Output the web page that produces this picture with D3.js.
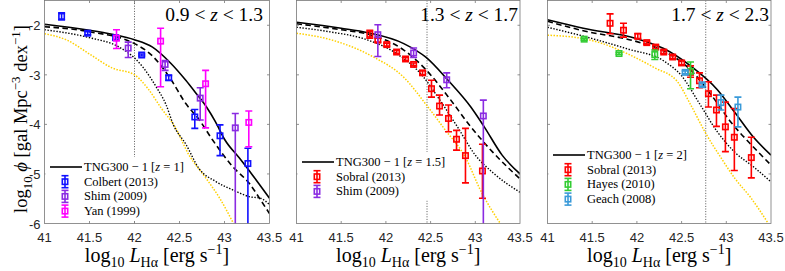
<!DOCTYPE html>
<meta charset="utf-8">
<script src="https://d3js.org/d3.v7.min.js"></script>
<style>
  body { margin: 0; background: #fff; }
</style>
<div id="chart"></div>
<script>

// ---- data ----
var xTicks = [41, 41.5, 42, 42.5, 43, 43.5],
  yTicks = [-2, -3, -4, -5, -6];

var zBins = [["0.9", "1.3"], ["1.3", "1.7"], ["1.7", "2.3"]],
  tngZ = ["1", "1.5", "2"],
  limits = [42.0, 42.46, 42.77];

// model curves [log L, log phi]
var z1Tng = [[41,-1.98],[41.5,-2.1],[41.75,-2.18],[42,-2.29],[42.2,-2.44],[42.4,-2.76],[42.57,-3.11],[42.67,-3.34],[42.8,-3.65],[42.9,-3.95],[43,-4.3],[43.17,-4.69],[43.31,-5.02],[43.5,-5.49]];
var z1Dash = [[41,-2.03],[41.5,-2.13],[42,-2.37],[42.2,-2.62],[42.4,-3.08],[42.57,-3.58],[42.72,-3.91],[42.87,-4.32],[43.09,-4.85],[43.28,-5.2],[43.41,-5.55],[43.5,-5.8]];
var z1Dot = [[41,-2.09],[41.5,-2.25],[41.83,-2.44],[42,-2.66],[42.1,-2.86],[42.24,-3.24],[42.35,-3.6],[42.43,-4.0],[42.57,-4.4],[42.72,-4.9],[42.9,-5.15],[43.09,-5.32],[43.28,-5.46],[43.4,-5.49],[43.5,-5.62]];
var z1Gold = [[41,-2.17],[41.25,-2.3],[41.5,-2.58],[41.75,-2.86],[42,-3.0],[42.15,-3.28],[42.3,-3.68],[42.45,-4.05],[42.6,-4.6],[42.8,-5.1],[42.95,-5.5],[43.1,-6.0]];

var z2Tng = [[41,-1.94],[41.5,-2.06],[41.8,-2.15],[42.2,-2.37],[42.45,-2.65],[42.7,-3.12],[42.95,-3.65],[43.1,-4.05],[43.3,-4.62],[43.5,-5.0]];
var z2Dash = [[41,-1.97],[41.5,-2.09],[41.8,-2.18],[42.2,-2.5],[42.45,-2.9],[42.7,-3.45],[42.95,-4.05],[43.2,-4.57],[43.5,-5.1]];
var z2Dot = [[41,-2.04],[41.4,-2.14],[41.75,-2.27],[42.1,-2.55],[42.4,-3.0],[42.6,-3.5],[42.8,-4.05],[43.0,-4.62],[43.2,-4.98],[43.5,-5.37]];
var z2Gold = [[41,-2.16],[41.4,-2.3],[41.85,-2.63],[42.2,-3.05],[42.45,-3.6],[42.65,-4.08],[42.9,-4.7],[43.05,-5.3],[43.28,-6.0]];

var z3Tng = [[41,-1.89],[41.4,-2.06],[42,-2.27],[42.3,-2.47],[42.6,-2.82],[42.9,-3.3],[43.1,-3.77],[43.3,-4.25],[43.5,-4.62]];
var z3Dash = [[41,-1.92],[41.4,-2.11],[42,-2.33],[42.3,-2.52],[42.6,-2.9],[42.85,-3.45],[43.05,-3.95],[43.3,-4.45],[43.5,-4.82]];
var z3Dot = [[41,-2.04],[41.4,-2.22],[41.9,-2.48],[42.3,-2.72],[42.5,-3.02],[42.7,-3.58],[42.9,-4.15],[43.1,-4.57],[43.3,-4.85],[43.5,-5.16]];
var z3Gold = [[41,-2.2],[41.4,-2.27],[41.6,-2.36],[41.9,-2.58],[42.2,-2.86],[42.45,-3.13],[42.6,-3.6],[42.77,-4.18],[42.95,-4.7],[43.1,-5.1],[43.27,-5.47],[43.47,-6.0]];

// observations [log L, log phi, lower, upper]
var colbert13 = [[41.19,-1.82,-1.89,-1.75],[41.48,-2.16,-2.19,-2.13],[41.79,-2.25,-2.29,-2.21],[42.08,-2.6,-2.62,-2.58],[42.38,-3.06,-3.11,-3.01],[42.67,-3.85,-4.08,-3.7],[42.95,-4.23,-4.63,-4.01],[43.26,-4.79,-7,-4.48]];
var shim09a = [[41.93,-2.46,-2.65,-2.34],[42.34,-2.79,-2.91,-2.71],[42.73,-3.47,-3.91,-3.26],[43.12,-4.07,-7,-3.78]];
var yan99 = [[41.8,-2.26,-2.47,-2.09],[42.29,-2.32,-3.24,-2.06],[42.79,-3.18,-4.07,-2.91],[43.27,-3.96,-4.45,-3.73]];

var sobral13a = [[41.82,-2.18,-2.26,-2.1],[41.91,-2.3,-2.34,-2.26],[42.01,-2.39,-2.42,-2.36],[42.12,-2.54,-2.57,-2.51],[42.22,-2.68,-2.71,-2.65],[42.31,-2.79,-2.82,-2.76],[42.41,-2.96,-3.0,-2.92],[42.51,-3.28,-3.45,-3.11],[42.6,-3.63,-3.81,-3.41],[42.7,-3.88,-4.15,-3.61],[42.79,-4.3,-4.52,-4.12],[42.89,-4.63,-5.18,-4.08],[43.08,-4.94,-5.49,-4.4]];
var shim09b = [[41.91,-2.19,-2.63,-1.99],[42.31,-2.56,-2.65,-2.46],[42.68,-3.1,-3.26,-2.96],[43.09,-3.83,-7,-3.51]];

var sobral13b = [[41.7,-1.96,-2.17,-1.77],[41.85,-2.1,-2.24,-1.96],[42.01,-2.22,-2.27,-2.17],[42.11,-2.35,-2.38,-2.32],[42.21,-2.44,-2.48,-2.4],[42.3,-2.54,-2.57,-2.51],[42.4,-2.64,-2.67,-2.61],[42.5,-2.76,-2.8,-2.72],[42.6,-2.95,-3.05,-2.82],[42.7,-3.12,-3.26,-2.96],[42.8,-3.38,-3.65,-3.14],[42.89,-3.71,-4.04,-3.41],[42.99,-4.05,-4.55,-3.55],[43.09,-4.26,-4.93,-3.68],[43.28,-4.67,-5.08,-4.26]];
var hayes10 = [[41.41,-2.28,-2.3,-2.26],[41.8,-2.57,-2.59,-2.55],[42.2,-2.59,-2.69,-2.5],[42.6,-2.93,-3.28,-2.74]];
var geach08 = [[42.54,-2.95,-2.98,-2.92],[42.73,-3.2,-3.23,-3.17],[42.94,-3.56,-3.71,-3.41],[43.13,-3.65,-4.05,-3.45]];

// ---- layout ----
var width = 785, height = 271,
  plotTop = 0.5, plotBottom = 223.5,
  serif = "'Liberation Serif', 'DejaVu Serif', serif",
  sans = "'Liberation Sans', Arial, sans-serif",
  gold = "#FFD000";

var panels = [
  { left: 44.5, right: 269.5, titleEnd: 263, legTop: 167,
    curves: [z1Gold, z1Dot, z1Dash, z1Tng],
    obs: [{name: "Colbert (2013)", color: "#1010FF", d: colbert13},
          {name: "Shim (2009)", color: "#8A2BE2", d: shim09a},
          {name: "Yan (1999)", color: "#FF00FF", d: yan99}] },
  { left: 296.5, right: 520, titleEnd: 518, legTop: 162,
    curves: [z2Gold, z2Dot, z2Dash, z2Tng],
    obs: [{name: "Sobral (2013)", color: "#FF0000", d: sobral13a},
          {name: "Shim (2009)", color: "#8A2BE2", d: shim09b}] },
  { left: 547.5, right: 771, titleEnd: 769, legTop: 155,
    curves: [z3Gold, z3Dot, z3Dash, z3Tng],
    obs: [{name: "Sobral (2013)", color: "#FF0000", d: sobral13b},
          {name: "Hayes (2010)", color: "#33CC33", d: hayes10},
          {name: "Geach (2008)", color: "#3A9AD9", d: geach08}] }
];

var curveStyle = [
  {stroke: gold, width: 1.5, dash: "1.5,1.5"},
  {stroke: "#000", width: 1.4, dash: "1.4,1.6"},
  {stroke: "#000", width: 1.6, dash: "5.5,3.5"},
  {stroke: "#000", width: 1.6, dash: null}
];

var svg = d3.select("#chart").append("svg")
  .attr("width", width).attr("height", height);

// write text with italic / sub / sup pieces
function rich(sel, parts, size) {
  var shift = 0;
  parts.forEach(function (p) {
    var target = p.sub ? size * 0.25 : (p.sup ? -size * 0.38 : 0);
    var ts = sel.append("tspan").text(p.t).attr("dy", target - shift);
    if (p.sub || p.sup) ts.attr("font-size", size * 0.7);
    if (p.it) ts.attr("font-style", "italic");
    shift = target;
  });
}

var y = d3.scaleLinear().domain([-6, -1.5]).range([plotBottom, plotTop]);

panels.forEach(function (p, i) {
  var x = d3.scaleLinear().domain([41, 43.5]).range([p.left, p.right]);
  var g = svg.append("g");

  g.append("clipPath").attr("id", "clip" + i)
    .append("rect").attr("x", p.left).attr("y", plotTop)
    .attr("width", p.right - p.left).attr("height", plotBottom - plotTop);

  var plot = g.append("g").attr("clip-path", "url(#clip" + i + ")");

  // completeness limit
  plot.append("line")
    .attr("x1", x(limits[i])).attr("x2", x(limits[i]))
    .attr("y1", plotTop).attr("y2", plotBottom)
    .attr("stroke", "#444").attr("stroke-width", 0.9)
    .attr("stroke-dasharray", "1,1.6");

  // model curves
  var line = d3.line().x(function (d) { return x(d[0]); })
    .y(function (d) { return y(d[1]); }).curve(d3.curveMonotoneX);
  p.curves.forEach(function (c, k) {
    var s = curveStyle[k];
    plot.append("path").datum(c).attr("d", line)
      .attr("fill", "none").attr("stroke", s.stroke)
      .attr("stroke-width", s.width)
      .attr("stroke-dasharray", s.dash);
  });

  // observations with error bars
  p.obs.forEach(function (o) {
    var pts = plot.append("g").selectAll("g").data(o.d).enter().append("g")
      .attr("stroke", o.color).attr("fill", "none").attr("stroke-width", 1.6);
    pts.append("line")
      .attr("x1", function (d) { return x(d[0]); }).attr("x2", function (d) { return x(d[0]); })
      .attr("y1", function (d) { return y(d[2]); }).attr("y2", function (d) { return y(d[3]); });
    [2, 3].forEach(function (j) {
      pts.append("line")
        .attr("x1", function (d) { return x(d[0]) - 3.5; }).attr("x2", function (d) { return x(d[0]) + 3.5; })
        .attr("y1", function (d) { return y(d[j]); }).attr("y2", function (d) { return y(d[j]); });
    });
    pts.append("rect")
      .attr("x", function (d) { return x(d[0]) - 2.7; })
      .attr("y", function (d) { return y(d[1]) - 2.7; })
      .attr("width", 5.4).attr("height", 5.4);
  });

  // box and inward ticks
  g.append("rect").attr("x", p.left).attr("y", plotTop)
    .attr("width", p.right - p.left).attr("height", plotBottom - plotTop)
    .attr("fill", "none").attr("stroke", "#777").attr("stroke-width", 0.8);

  var ax = g.append("g").attr("stroke", "#777").attr("stroke-width", 0.8);
  xTicks.slice(1, -1).forEach(function (t) {
    ax.append("line").attr("x1", x(t)).attr("x2", x(t)).attr("y1", plotBottom).attr("y2", plotBottom - 2.5);
    ax.append("line").attr("x1", x(t)).attr("x2", x(t)).attr("y1", plotTop).attr("y2", plotTop + 2.5);
  });
  yTicks.slice(0, -1).forEach(function (t) {
    ax.append("line").attr("x1", p.left).attr("x2", p.left + 2.5).attr("y1", y(t)).attr("y2", y(t));
    ax.append("line").attr("x1", p.right).attr("x2", p.right - 2.5).attr("y1", y(t)).attr("y2", y(t));
  });

  // tick labels
  g.selectAll(".xt").data(xTicks).enter().append("text")
    .attr("x", function (d) { return x(d); }).attr("y", 241.5)
    .attr("text-anchor", "middle").attr("font-family", sans)
    .attr("font-size", 13).attr("fill", "#262626")
    .text(function (d) { return d; });
  if (i === 0) {
    g.selectAll(".yt").data(yTicks).enter().append("text")
      .attr("x", p.left - 4).attr("y", function (d) { return y(d) + 5; })
      .attr("text-anchor", "end").attr("font-family", sans)
      .attr("font-size", 13).attr("fill", "#262626")
      .text(function (d) { return d; });
  }

  // x axis label
  var xl = g.append("text").attr("x", (p.left + p.right) / 2).attr("y", 262)
    .attr("text-anchor", "middle").attr("font-family", serif).attr("font-size", 20);
  rich(xl, [{t: "log"}, {t: "10", sub: 1}, {t: " "}, {t: "L", it: 1}, {t: "Hα", sub: 1},
    {t: " [erg s"}, {t: "−1", sup: 1}, {t: "]"}], 20);

  // title
  var tt = g.append("text").attr("x", p.titleEnd).attr("y", 21)
    .attr("text-anchor", "end").attr("font-family", serif).attr("font-size", 19.5);
  rich(tt, [{t: zBins[i][0] + " < "}, {t: "z", it: 1}, {t: " < " + zBins[i][1]}], 19.5);

  // legend
  var lg = g.append("g");
  var lx0 = p.left + 5.5, lx1 = p.left + 37.5, row = 14.7;
  var bg = lg.append("rect").attr("fill", "#fff");
  lg.append("line").attr("x1", lx0).attr("x2", lx1)
    .attr("y1", p.legTop).attr("y2", p.legTop)
    .attr("stroke", "#000").attr("stroke-width", 1.6);
  var t0 = lg.append("text").attr("x", lx1 + 2).attr("y", p.legTop + 4)
    .attr("font-family", serif).attr("font-size", 12.5);
  rich(t0, [{t: "TNG300 − 1 ["}, {t: "z", it: 1}, {t: " = " + tngZ[i] + "]"}], 12.5);
  p.obs.forEach(function (o, k) {
    var yy = p.legTop + row * (k + 1), mx = (lx0 + lx1) / 2 - 1;
    var m = lg.append("g").attr("stroke", o.color).attr("fill", "none").attr("stroke-width", 1.6);
    m.append("line").attr("x1", mx).attr("x2", mx).attr("y1", yy - 6).attr("y2", yy + 6);
    m.append("line").attr("x1", mx - 3.5).attr("x2", mx + 3.5).attr("y1", yy - 6).attr("y2", yy - 6);
    m.append("line").attr("x1", mx - 3.5).attr("x2", mx + 3.5).attr("y1", yy + 6).attr("y2", yy + 6);
    m.append("rect").attr("x", mx - 2.7).attr("y", yy - 2.7).attr("width", 5.4).attr("height", 5.4);
    lg.append("text").attr("x", lx1 + 2).attr("y", yy + 4)
      .attr("font-family", serif).attr("font-size", 12.5).text(o.name);
  });
  var bb = lg.node().getBBox();
  bg.attr("x", p.left + 1).attr("y", bb.y - 3)
    .attr("width", bb.x + bb.width + 3 - p.left - 1).attr("height", bb.height + 5);
});

// y axis label
var yl = svg.append("text")
  .attr("transform", "translate(27,119) rotate(-90)")
  .attr("text-anchor", "middle").attr("font-family", serif).attr("font-size", 18.5);
rich(yl, [{t: "log"}, {t: "10", sub: 1}, {t: " "}, {t: "ϕ", it: 1},
  {t: " [gal Mpc"}, {t: "−3", sup: 1}, {t: " dex"}, {t: "−1", sup: 1}, {t: "]"}], 18.5);

</script>
